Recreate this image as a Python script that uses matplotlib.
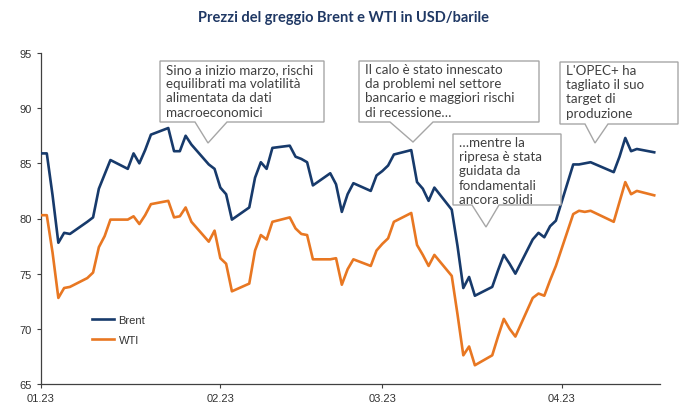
import pandas as pd
import matplotlib.pyplot as plt
import matplotlib.dates as mdates
from matplotlib.patches import Polygon
from matplotlib.transforms import Affine2D

# --------------------------
# Dati (USD/barile)
# --------------------------
dates = ['2023-01-01', '2023-01-02', '2023-01-03', '2023-01-04', '2023-01-05', '2023-01-06',
         '2023-01-09', '2023-01-10', '2023-01-11', '2023-01-12', '2023-01-13', '2023-01-16',
         '2023-01-17', '2023-01-18', '2023-01-19', '2023-01-20', '2023-01-23', '2023-01-24',
         '2023-01-25', '2023-01-26', '2023-01-27', '2023-01-30', '2023-01-31',
         '2023-02-01', '2023-02-02', '2023-02-03', '2023-02-06', '2023-02-07', '2023-02-08',
         '2023-02-09', '2023-02-10', '2023-02-13', '2023-02-14', '2023-02-15', '2023-02-16',
         '2023-02-17', '2023-02-20', '2023-02-21', '2023-02-22', '2023-02-23', '2023-02-24',
         '2023-02-27', '2023-02-28',
         '2023-03-01', '2023-03-02', '2023-03-03', '2023-03-06', '2023-03-07', '2023-03-08',
         '2023-03-09', '2023-03-10', '2023-03-13', '2023-03-14', '2023-03-15', '2023-03-16',
         '2023-03-17', '2023-03-20', '2023-03-21', '2023-03-22', '2023-03-23', '2023-03-24',
         '2023-03-27', '2023-03-28', '2023-03-29', '2023-03-30', '2023-03-31',
         '2023-04-03', '2023-04-04', '2023-04-05', '2023-04-06', '2023-04-10', '2023-04-11',
         '2023-04-12', '2023-04-13', '2023-04-14', '2023-04-17']

brent = [85.9, 85.9, 82.1, 77.8, 78.7, 78.6, 79.7, 80.1, 82.7, 84.0, 85.3, 84.5,
         85.9, 85.0, 86.2, 87.6, 88.2, 86.1, 86.1, 87.5, 86.7, 84.9, 84.5,
         82.8, 82.2, 79.9, 81.0, 83.7, 85.1, 84.5, 86.4, 86.6, 85.6, 85.4, 85.1,
         83.0, 84.1, 83.1, 80.6, 82.2, 83.2, 82.5, 83.9,
         84.3, 84.8, 85.8, 86.2, 83.3, 82.7, 81.6, 82.8, 80.8, 77.5, 73.7, 74.7,
         73.0, 73.8, 75.3, 76.7, 75.9, 75.0, 78.1, 78.7, 78.3, 79.3, 79.8,
         84.9, 84.9, 85.0, 85.1, 84.2, 85.6, 87.3, 86.1, 86.3, 86.0]

wti = [80.3, 80.3, 76.9, 72.8, 73.7, 73.8, 74.6, 75.1, 77.4, 78.4, 79.9, 79.9,
       80.2, 79.5, 80.3, 81.3, 81.6, 80.1, 80.2, 81.0, 79.7, 77.9, 78.9,
       76.4, 75.9, 73.4, 74.1, 77.1, 78.5, 78.1, 79.7, 80.1, 79.1, 78.6, 78.5,
       76.3, 76.3, 76.4, 74.0, 75.4, 76.3, 75.7, 77.1,
       77.7, 78.2, 79.7, 80.5, 77.6, 76.7, 75.7, 76.7, 74.8, 71.3, 67.6, 68.4,
       66.7, 67.6, 69.3, 70.9, 70.0, 69.3, 72.8, 73.2, 73.0, 74.4, 75.7,
       80.4, 80.7, 80.6, 80.7, 79.7, 81.5, 83.3, 82.2, 82.5, 82.1]

month_ticks = ['2023-01-01', '2023-02-01', '2023-03-01', '2023-04-01']

notes = [
    'Sino a inizio marzo, rischi\nequilibrati ma volatilità\nalimentata da dati\nmacroeconomici',
    'Il calo è stato innescato\nda problemi nel settore\nbancario e maggiori rischi\ndi recessione…',
    '…mentre la\nripresa è stata\nguidata da\nfondamentali\nancora solidi',
    "L'OPEC+ ha\ntagliato il suo\ntarget di\nproduzione",
]

W, H = 690, 406
x = pd.to_datetime(dates)

fig = plt.figure(figsize=(W / 100, H / 100), dpi=100)
ax = fig.add_axes([41 / W, 1 - 385 / H, 619 / W, 331 / H])

ax.plot(x, brent, color='#173a6b', lw=1.9, label='Brent', zorder=3)
ax.plot(x, wti, color='#e87722', lw=1.9, label='WTI', zorder=3)

ax.set_ylim(65, 95)
ax.set_yticks([65, 70, 75, 80, 85, 90, 95])
ax.set_xlim(pd.Timestamp('2023-01-01'), pd.Timestamp('2023-04-18'))
ax.set_xticks(pd.to_datetime(month_ticks))
ax.xaxis.set_major_formatter(mdates.DateFormatter('%m.%y'))

for s in ['top', 'right']:
    ax.spines[s].set_visible(False)
for s in ['left', 'bottom']:
    ax.spines[s].set_color('#404040')
    ax.spines[s].set_linewidth(0.9)
ax.tick_params(direction='out', length=3, width=0.8, color='#404040',
               labelsize=8, labelcolor='#333333')
for lab in ax.get_xticklabels() + ax.get_yticklabels():
    lab.set_family('Liberation Sans')

leg = ax.legend(loc='lower left', bbox_to_anchor=(0.066, 0.088), frameon=False,
                handlelength=2.0, handletextpad=0.4, labelspacing=0.9,
                prop={'family': 'Liberation Sans', 'size': 8})
for t in leg.get_texts():
    t.set_color('#333333')

fig.text(344 / W, 1 - 18 / H, 'Prezzi del greggio Brent e WTI in USD/barile',
         ha='center', va='center', fontsize=10.5, fontweight='bold',
         color='#1f3864', family='Lato')

# --------------------------
# Fumetti (coordinate in pixel, origine in alto a sinistra)
# --------------------------
px = Affine2D().scale(1 / W, -1 / H).translate(0, 1) + fig.transFigure

boxes = [
    (160, 62, 324, 123, 195, 208, 144, 227),
    (359, 62, 539, 123, 390, 413, 143, 433),
    (453, 135, 561, 206, 472, 486, 228, 499),
    (560, 63, 678, 125, 585, 595, 144, 608),
]

for (x0, y0, x1, y1, bl, tx, ty, br), txt in zip(boxes, notes):
    pts = [(x0, y0), (x1, y0), (x1, y1), (br, y1), (tx, ty), (bl, y1), (x0, y1)]
    fig.add_artist(Polygon(pts, closed=True, transform=px, facecolor='white',
                           edgecolor='#a6a6a6', lw=1.0, zorder=5))
    fig.text(x0 + 6, y0 + 2, txt, transform=px, ha='left', va='top',
             fontsize=9.6, color='#404040', family='Lato', linespacing=1.22,
             zorder=6)

fig.savefig('out.png', dpi=100)
